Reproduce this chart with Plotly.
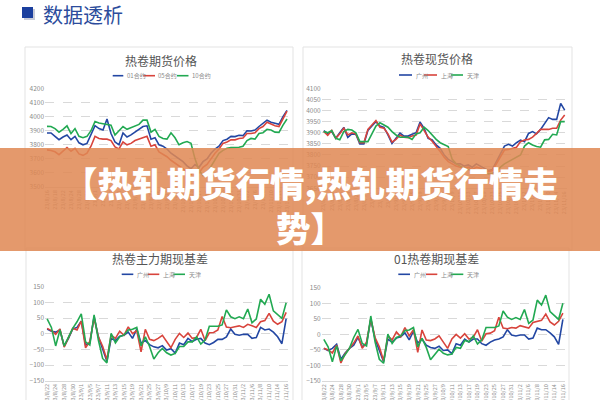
import plotly.graph_objects as go

W, H = 600, 400

# ---------------- data ----------------
base_dates = ["23/8/22","23/8/23","23/8/24","23/8/25","23/8/28","23/8/29","23/8/30","23/8/31",
              "23/9/1","23/9/4","23/9/5","23/9/6","23/9/7","23/9/8","23/9/11","23/9/12","23/9/13",
              "23/9/14","23/9/15","23/9/18","23/9/19","23/9/20","23/9/21","23/9/22","23/9/25",
              "23/9/26","23/9/27","23/9/28","23/10/9","23/10/10","23/10/11","23/10/12","23/10/13",
              "23/10/16","23/10/17","23/10/18","23/10/19","23/10/20","23/10/23","23/10/24",
              "23/10/25","23/10/26","23/10/27","23/10/30","23/10/31","23/11/1","23/11/2","23/11/3",
              "23/11/6","23/11/7","23/11/8","23/11/9","23/11/10","23/11/13","23/11/14","23/11/15",
              "23/11/16"]
top_dates = ["23/8/16","23/8/17","23/8/18","23/8/21"] + base_dates

fut_01 = [3884,3884,3860,3836,3855,3870,3836,3860,3814,3800,3810,
          3880,3936,3915,3905,3983,3880,3820,3800,3884,3855,
          3870,3890,3905,3930,3935,3840,3850,3800,3790,3770,
          3740,3720,3700,3680,3650,3630,3660,3640,3680,3700,
          3740,3770,3790,3830,3840,3860,3858,3868,3865,3900,
          3898,3905,3930,3950,3975,3960,3955,3945,4000,4045]
fut_05 = [3764,3760,3750,3730,3755,3780,3755,3775,3735,3725,3740,
          3790,3860,3845,3840,3840,3830,3785,3770,3820,3800,
          3810,3830,3840,3855,3860,3790,3800,3750,3735,3715,
          3690,3670,3650,3630,3610,3590,3620,3600,3640,3660,
          3700,3740,3770,3810,3820,3835,3835,3845,3848,3880,
          3880,3885,3915,3930,3960,3945,3935,3930,3990,4040]
fut_10 = [3931,3930,3915,3890,3910,3935,3880,3915,3860,3850,3860,
          3900,3966,3955,3950,3945,3940,3870,3900,3930,3910,
          3920,3935,3945,3975,3975,3890,3910,3860,3845,3840,
          3885,3850,3800,3815,3823,3810,3700,3620,3580,3600,
          3650,3700,3740,3760,3775,3780,3780,3782,3790,3830,
          3845,3840,3880,3886,3910,3905,3890,3888,3940,3983]

spot_gz = [3909,3897,3905,3875,3900,3924,3879,3895,3893,3850,3850,
           3910,3930,3950,3930,3924,3890,3852,3875,3898,3885,
           3885,3893,3900,3948,3920,3875,3868,3845,3830,3800,
           3780,3770,3760,3760,3750,3755,3745,3760,3750,3740,
           3730,3735,3770,3810,3840,3848,3840,3855,3867,3860,
           3897,3905,3895,3915,3940,3968,3960,3960,4032,4002]
spot_sh = [3906,3888,3910,3875,3895,3920,3890,3900,3895,3855,3855,
           3915,3935,3955,3925,3920,3895,3858,3870,3890,3880,
           3878,3885,3890,3940,3910,3880,3862,3840,3815,3790,
           3770,3760,3750,3745,3740,3745,3735,3745,3740,3730,
           3725,3730,3760,3795,3822,3825,3830,3835,3860,3867,
           3870,3880,3897,3915,3915,3915,3920,3920,3957,3980]
spot_tj = [3905,3900,3910,3875,3868,3905,3915,3912,3900,3860,3860,
           3860,3895,3930,3945,3935,3925,3905,3890,3880,3880,
           3880,3870,3895,3900,3925,3910,3890,3870,3855,3845,
           3838,3780,3760,3750,3740,3735,3730,3725,3728,3720,
           3715,3718,3725,3745,3760,3770,3780,3790,3800,3840,
           3855,3845,3838,3835,3868,3870,3893,3890,3950,3950]

basis_gz = [15,8,5,12,-40,-15,15,20,40,-35,
            -30,55,-10,-50,-88,-15,-22,-8,-5,5,
            -15,15,-30,-22,-35,-42,-45,-38,-52,-48,
            -62,-30,-35,-15,-25,-18,-15,-30,-35,-28,
            -18,-18,-10,15,-2,-5,-2,-2,-15,-12,
            20,12,15,5,-10,-32,48]
basis_sh = [17,10,-2,15,-43,-15,17,12,40,-45,
            -25,50,-10,-40,-83,-5,-15,8,-5,22,
            0,10,-58,14,-18,-22,-15,-5,-25,-45,
            -18,1,-12,2,-15,-12,14,-22,3,4,
            12,55,21,19,22,25,20,30,25,20,
            38,42,65,40,30,38,68]
basis_tj = [47,20,-39,12,-39,-10,17,38,63,-26,
            -36,60,-20,-79,-93,1,-29,-10,-4,12,
            14,20,-39,-10,-41,-81,-61,-47,-61,-68,
            -63,-41,-41,-26,-26,-10,-33,-20,24,24,
            24,28,76,54,48,54,48,79,35,47,
            110,94,126,73,61,49,99]

b01_gz = [-45,-52,-45,-32,-80,-60,-45,-35,-10,-40,
          -30,48,-15,-50,-88,-15,-25,-12,-8,5,
          -18,10,-28,-15,-35,-42,-45,-38,-52,-50,
          -62,-30,-35,-15,-25,-15,-15,-30,-35,-25,
          -18,-15,-8,15,-2,-5,-2,-2,-15,-12,
          20,15,15,5,-8,-32,48]
b01_sh = [-45,-50,-60,-35,-92,-62,-45,-28,-5,-45,
          -25,50,-10,-40,-85,-5,-18,8,-8,22,
          -5,15,-58,14,-18,-20,-15,-5,-25,-45,
          -15,0,-12,2,-15,-10,15,-22,2,4,
          12,55,20,18,22,20,28,25,20,38,
          42,45,65,40,30,42,68]
b01_tj = [-16,-40,-88,-37,-85,-66,-45,-10,16,-29,
          -37,59,-24,-80,-93,1,-29,-10,-5,12,
          14,22,-40,-13,-42,-82,-66,-48,-61,-66,
          -63,-42,-45,-20,-24,-5,-31,-18,22,22,
          22,27,75,55,48,54,48,80,35,46,
          110,94,126,73,59,48,100]

fut_names = ["01合约", "05合约", "10合约"]
city_names = ["广州", "上海", "天津"]
chart_titles = ["热卷期货价格", "热卷现货价格", "热卷主力期现基差", "01热卷期现基差"]
page_title = "数据透析"
banner_text = "【热轧期货行情,热轧期货行情走<br>势】"

# ---------------- style ----------------
COLORS = ["#2347A3", "#D8443C", "#22A952"]
FONT = "Noto Sans CJK SC"
GRAY = "#8a8a8a"

def px(x):
    return x / W

def py(y):
    return 1 - y / H

fig = go.Figure()

panels = [
    dict(xd=(45, 289), yd=(88.5, 187), rng=(3500, 4200), dt=100, dates=top_dates,
         series=[fut_01, fut_05, fut_10], names=fut_names),
    dict(xd=(321.7, 566.7), yd=(88.3, 188.3), rng=(3650, 4100), dt=50, dates=top_dates,
         series=[spot_gz, spot_sh, spot_tj], names=city_names),
    dict(xd=(45, 288.3), yd=(286.7, 380.7), rng=(-150, 150), dt=50, dates=base_dates,
         series=[basis_gz, basis_sh, basis_tj], names=city_names),
    dict(xd=(321.7, 565), yd=(287.7, 381), rng=(-150, 150), dt=50, dates=base_dates,
         series=[b01_gz, b01_sh, b01_tj], names=city_names),
]

layout_axes = {}
for k, p in enumerate(panels):
    sfx = "" if k == 0 else str(k + 1)
    for s, name, col in zip(p["series"], p["names"], COLORS):
        fig.add_trace(go.Scatter(x=p["dates"], y=s, mode="lines", name=name,
                                 line=dict(color=col, width=1.6),
                                 xaxis="x" + sfx, yaxis="y" + sfx, showlegend=False))
    n = len(p["dates"])
    layout_axes["xaxis" + sfx] = dict(
        domain=[px(p["xd"][0]), px(p["xd"][1])], anchor="y" + sfx, type="category",
        range=[-0.5, n - 0.5], tickvals=p["dates"][::2], ticktext=p["dates"][::2],
        tickangle=-90, tickfont=dict(size=5.5, color=GRAY, family=FONT),
        showgrid=False, showline=True, linecolor="#d9d9d9", linewidth=1,
        ticks="", automargin=False, zeroline=False, fixedrange=True)
    layout_axes["yaxis" + sfx] = dict(
        domain=[py(p["yd"][1]), py(p["yd"][0])], anchor="x" + sfx,
        range=list(p["rng"]), dtick=p["dt"], tick0=p["rng"][0],
        tickfont=dict(size=6.5, color=GRAY, family=FONT),
        showgrid=True, gridcolor="#d9d9d9", griddash="dash", gridwidth=1,
        zeroline=False, showline=False, ticks="", automargin=False, fixedrange=True)

fig.update_layout(**layout_axes)

shapes = []
annotations = []

# panel frames
for (x0, y0, x1, y1) in [(25, 47, 293, 250), (303, 47, 572, 250),
                          (26, 248, 293, 410), (302, 248, 569, 410)]:
    shapes.append(dict(type="rect", xref="paper", yref="paper", x0=px(x0), x1=px(x1),
                       y0=py(y1), y1=py(y0), line=dict(color="#e3e3e3", width=1),
                       fillcolor="rgba(0,0,0,0)", layer="below"))

# chart titles
for t, (cx, cy) in zip(chart_titles, [(161, 60), (437, 59), (160, 258), (436, 258)]):
    annotations.append(dict(text=t, x=px(cx), y=py(cy), xref="paper", yref="paper",
                            showarrow=False, xanchor="center", yanchor="middle",
                            font=dict(size=12, color="#555555", family=FONT)))

# legends (keys + labels)
legend_specs = [
    (fut_names, 75.7, [(112.7, 123.3), (143.3, 155), (177, 188.5)]),
    (city_names, 75, [(399, 412), (424, 437), (451, 463)]),
    (city_names, 274.3, [(121.7, 133.3), (147.7, 159.3), (173.3, 185)]),
    (city_names, 274.3, [(398.3, 410), (426, 437.3), (450.7, 463.3)]),
]
for names, ly, keys in legend_specs:
    for name, col, (k0, k1) in zip(names, COLORS, keys):
        shapes.append(dict(type="line", xref="paper", yref="paper", x0=px(k0), x1=px(k1),
                           y0=py(ly), y1=py(ly), line=dict(color=col, width=1.6)))
        annotations.append(dict(text=name, x=px(k1 + 1.5), y=py(ly), xref="paper",
                                yref="paper", showarrow=False, xanchor="left",
                                yanchor="middle",
                                font=dict(size=6, color=GRAY, family=FONT)))

# page header
shapes.append(dict(type="rect", xref="paper", yref="paper", x0=px(24), x1=px(35),
                   y0=py(20), y1=py(9), line=dict(width=0), fillcolor="#c9ccd8"))
shapes.append(dict(type="rect", xref="paper", yref="paper", x0=px(22), x1=px(33),
                   y0=py(18), y1=py(7), line=dict(width=0), fillcolor="#1B3F9E"))
annotations.append(dict(text=page_title, x=px(41), y=py(14), xref="paper", yref="paper",
                        showarrow=False, xanchor="left", yanchor="middle",
                        font=dict(size=20, color="#2C4C9C", family=FONT)))

# banner
shapes.append(dict(type="rect", xref="paper", yref="paper", x0=0, x1=1,
                   y0=py(251), y1=py(148), line=dict(width=0),
                   fillcolor="rgba(224,136,84,0.86)", layer="above"))
annotations.append(dict(text=banner_text, x=px(310), y=py(205), xref="paper",
                        yref="paper", showarrow=False, xanchor="center",
                        yanchor="middle", align="center",
                        font=dict(size=34.5, color="#ffffff", family=FONT, weight=900)))

fig.update_layout(width=W, height=H, margin=dict(l=0, r=0, t=0, b=0),
                  paper_bgcolor="#ffffff", plot_bgcolor="#ffffff",
                  shapes=shapes, annotations=annotations,
                  font=dict(family=FONT))

fig.write_html("out.html")
